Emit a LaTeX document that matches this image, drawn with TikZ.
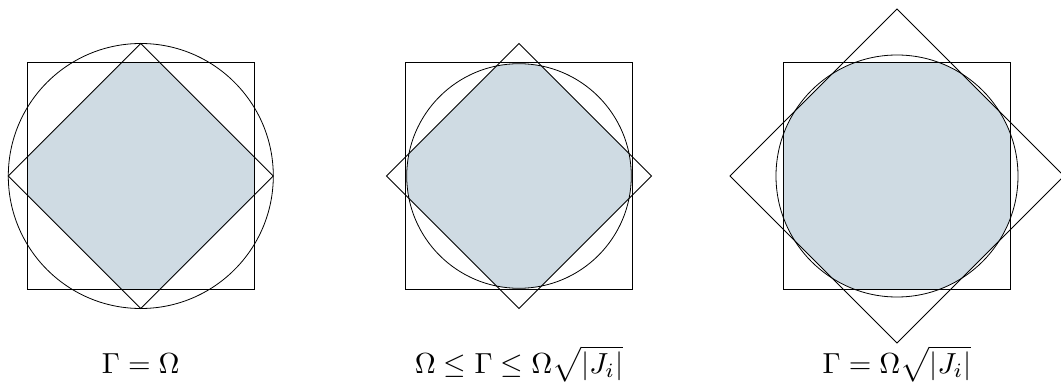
\documentclass[tikz,border=0pt]{standalone}
\usepackage{amsmath}
\definecolor{regionfill}{RGB}{207,219,227}
\begin{document}
\begin{tikzpicture}[x=1pt,y=-1pt,
  outline/.style={draw=black,line width=0.8pt},
  lbl/.style={anchor=base,scale=2.9,inner sep=0pt}]
\useasboundingbox (0,0) rectangle (1061,385);
% panel data: center x, circle radius, diamond half diagonal
\foreach \cx/\r/\d [count=\i] in {140.8/132.5/132.5, 519/112.3/132.5, 897/121/167}{
  \begin{scope}
    \clip (\cx-113.6,62.6) rectangle (\cx+113.6,289.4);
    \clip (\cx,176) circle[radius=\r];
    \fill[regionfill] (\cx-\d,176) -- (\cx,176-\d) -- (\cx+\d,176) -- (\cx,176+\d) -- cycle;
  \end{scope}
  \draw[outline] (\cx-113.6,62.6) rectangle (\cx+113.6,289.4);
  \draw[outline] (\cx,176) circle[radius=\r];
  \draw[outline] (\cx-\d,176) -- (\cx,176-\d) -- (\cx+\d,176) -- (\cx,176+\d) -- cycle;
}
\node[lbl] (l1) at (140.8,373) {$\Gamma = \Omega$};
\node[lbl] (l2) at (519,373) {$\Omega \leq \Gamma \leq \Omega\sqrt{|J_i|}$};
\node[lbl] (l3) at (897,373) {$\Gamma = \Omega\sqrt{|J_i|}$};
\end{tikzpicture}
\end{document}
